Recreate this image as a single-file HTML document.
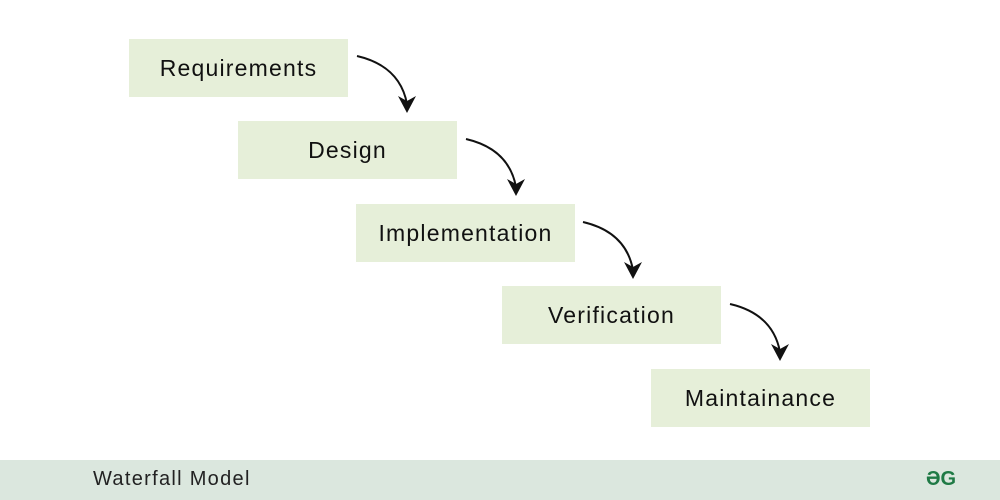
<!DOCTYPE html>
<html><head><style>
body{margin:0;width:1000px;height:500px;background:#fff;position:relative;overflow:hidden;font-family:"Liberation Sans",sans-serif}
.b{position:absolute;width:219px;height:58px;background:#e6efd9;display:flex;align-items:center;justify-content:center;font-size:23px;letter-spacing:1.2px;color:#111}
.f{position:absolute;left:0;top:460px;width:1000px;height:40px;background:#dbe7de}
</style></head><body>
<div class="b" style="left:129px;top:39px">Requirements</div>
<div class="b" style="left:238px;top:121px">Design</div>
<div class="b" style="left:356px;top:204px">Implementation</div>
<div class="b" style="left:502px;top:286px">Verification</div>
<div class="b" style="left:651px;top:369px">Maintainance</div>
<svg width="1000" height="500" style="position:absolute;left:0;top:0">
<g fill="none" stroke="#111" stroke-width="2" >
<path d="M357,56 Q400,66 407,104" />
<path d="M466,139 Q509,149 516,187" />
<path d="M583,222 Q626,232 633,270" />
<path d="M730,304 Q773,314 780,352" />
</g>
<g fill="#111">
<path d="M398,96 L407,101 L416,96 L407,113 Z"/>
<path d="M507,179 L516,184 L525,179 L516,196 Z"/>
<path d="M624,262 L633,267 L642,262 L633,279 Z"/>
<path d="M771,344 L780,349 L789,344 L780,361 Z"/>
</g>
</svg>
<div class="f"></div>
<div style="position:absolute;left:93px;top:468px;font-size:20px;letter-spacing:1.3px;color:#222">Waterfall Model</div>
<div style="position:absolute;left:926px;top:468px;font-size:20px;font-weight:bold;color:#1f7a45">ƏG</div>
</body></html>
